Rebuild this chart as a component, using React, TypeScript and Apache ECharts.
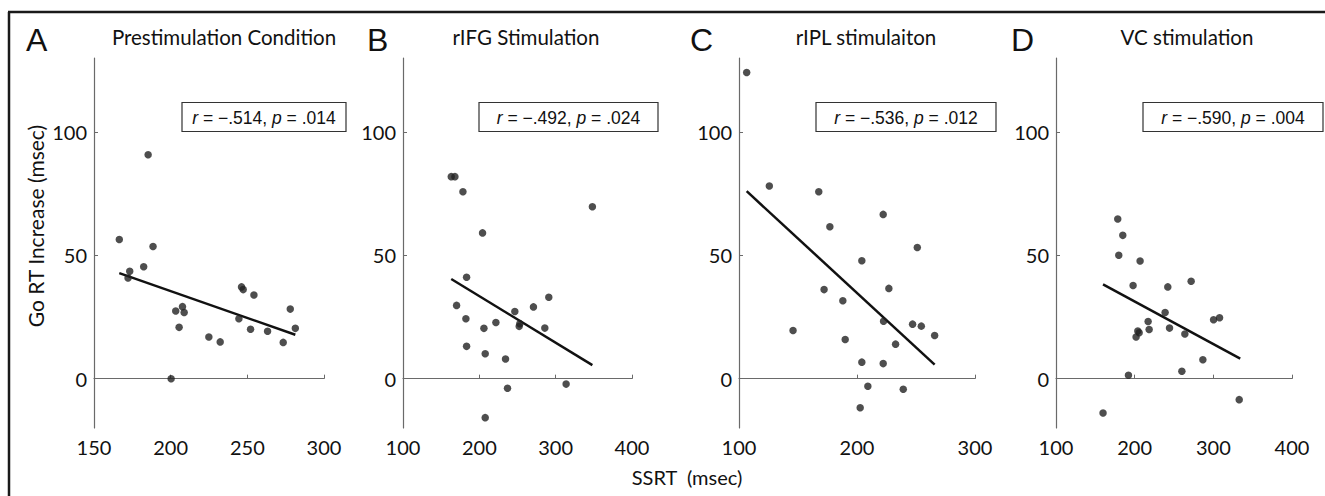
import React, { useEffect, useRef } from "react";
import * as echarts from "echarts";

// ---------- data ----------
const panelLetters = ["A", "B", "C", "D"];
const panelTitles = ["Prestimulation Condition", "rIFG Stimulation", "rIPL stimulaiton", "VC stimulation"];
const statR = ["−.514", "−.492", "−.536", "−.590"];
const statP = [".014", ".024", ".012", ".004"];
const yTicks = [0, 50, 100];
const yLabel = "Go RT Increase (msec)";
const xLabel = "SSRT  (msec)";

const xMinA = 150, xMaxA = 300, xStepA = 50;
const xMinB = 100, xMaxB = 400, xStepB = 100;
const xMinC = 100, xMaxC = 300, xStepC = 100;
const xMinD = 100, xMaxD = 400, xStepD = 100;
const yMin = -20, yMax = 130;

const pointsA: number[][] = [
  [166.5, 56.4], [172.2, 40.8], [173.3, 43.5], [182.4, 45.4], [185.3, 90.8], [188.5, 53.6],
  [200.3, 0], [203.3, 27.4], [205.5, 20.8], [207.7, 29.2], [208.8, 26.8], [224.9, 16.9],
  [232.3, 14.9], [244.5, 24.3], [246.2, 37.2], [247.3, 36.1], [252.1, 20.0], [254.3, 33.9],
  [263.2, 19.2], [273.4, 14.7], [278.0, 28.2], [281.3, 20.4],
];
const pointsB: number[][] = [
  [163.2, 81.9], [168.0, 81.9], [178.5, 75.8], [183.3, 41.1], [170.2, 29.7], [182.4, 24.3],
  [183.3, 13.1], [204.2, 59.1], [206.0, 20.4], [207.7, 10.1], [207.7, -15.8], [221.7, 22.8],
  [234.3, 8.0], [236.9, -3.9], [246.5, 27.2], [252.2, 21.2], [253.0, 22.3], [270.9, 29.1],
  [285.8, 20.5], [291.0, 33.0], [313.7, -2.2], [348.1, 69.7],
];
const pointsC: number[][] = [
  [106.5, 124.1], [125.7, 78.1], [145.8, 19.5], [167.6, 75.8], [172.1, 36.1], [177.0, 61.6],
  [188.0, 31.6], [190.0, 15.9], [202.7, -11.8], [204.1, 47.8], [204.1, 6.7], [209.2, -3.1],
  [222.2, 66.6], [222.5, 23.3], [222.2, 6.1], [227.0, 36.6], [232.7, 14.0], [239.2, -4.3],
  [247.1, 22.1], [251.1, 53.2], [254.5, 21.3], [265.8, 17.5],
];
const pointsD: number[][] = [
  [159.8, -13.9], [178.5, 64.7], [179.8, 50.0], [184.9, 58.1], [192.1, 1.4], [198.0, 37.8],
  [201.8, 16.9], [204.0, 19.3], [205.7, 18.6], [206.9, 47.7], [217.1, 23.2], [218.4, 19.9],
  [238.7, 26.8], [242.1, 37.2], [244.3, 20.5], [260.0, 3.0], [263.8, 18.1], [271.8, 39.5],
  [286.7, 7.7], [300.3, 23.9], [307.9, 24.7], [332.9, -8.5],
];
const fitA: number[][] = [[166.5, 42.8], [281.3, 17.8]];
const fitB: number[][] = [[163.2, 40.4], [348.1, 5.5]];
const fitC: number[][] = [[106.5, 76.0], [265.8, 5.7]];
const fitD: number[][] = [[159.8, 38.2], [334.2, 8.1]];

// ---------- layout ----------
const grids = [
  { left: 94, width: 230 },
  { left: 403, width: 229 },
  { left: 739, width: 236 },
  { left: 1056, width: 236 },
];
const gridTop = 58;
const gridHeight = 370;
const titleX = [224, 526, 866, 1187];
const letterX = [26, 367, 690, 1011];
const boxes = [
  { x: 182, w: 164 },
  { x: 479, w: 179 },
  { x: 816, w: 180 },
  { x: 1143, w: 180 },
];

const FONT = "Lato, 'Open Sans', sans-serif";
const SANS = "'Liberation Sans', Arial, sans-serif";
const AXIS_COLOR = "#6a6a6a";

export default function App() {
  const ref = useRef<HTMLDivElement>(null);
  useEffect(() => {
    document.body.style.margin = "0";
    if (!ref.current) return;
    const chart = echarts.init(ref.current, undefined, { renderer: "svg" });
    const xRanges = [
      [xMinA, xMaxA, xStepA],
      [xMinB, xMaxB, xStepB],
      [xMinC, xMaxC, xStepC],
      [xMinD, xMaxD, xStepD],
    ];
    const points = [pointsA, pointsB, pointsC, pointsD];
    const fits = [fitA, fitB, fitC, fitD];

    const axisCommon = {
      axisLine: { show: true, lineStyle: { color: AXIS_COLOR, width: 1.2 } },
      axisTick: { show: true, inside: true, length: 4, lineStyle: { color: AXIS_COLOR } },
      splitLine: { show: false },
      axisLabel: { color: "#111", fontFamily: FONT, fontSize: 20 },
    };

    const graphic: any[] = [
      { type: "line", shape: { x1: 8, y1: 12, x2: 1325, y2: 12 }, style: { stroke: "#1a1a1a", lineWidth: 2.5 } },
      { type: "line", shape: { x1: 9, y1: 12, x2: 9, y2: 496 }, style: { stroke: "#1a1a1a", lineWidth: 2.5 } },
      {
        type: "text", x: 35, y: 226, rotation: Math.PI / 2,
        style: { text: yLabel, font: `21px ${FONT}`, fill: "#111", textAlign: "center", textVerticalAlign: "middle" },
      },
      {
        type: "text", x: 687, y: 477,
        style: { text: xLabel, font: `20px ${FONT}`, fill: "#111", textAlign: "center", textVerticalAlign: "middle" },
      },
    ];
    for (let i = 0; i < 4; i++) {
      graphic.push({
        type: "text", x: letterX[i], y: 40,
        style: { text: panelLetters[i], font: `32px ${SANS}`, fill: "#111", textVerticalAlign: "middle" },
      });
      graphic.push({
        type: "text", x: titleX[i], y: 37,
        style: { text: panelTitles[i], font: `20.5px ${FONT}`, fill: "#111", textAlign: "center", textVerticalAlign: "middle" },
      });
      graphic.push({
        type: "rect", shape: { x: boxes[i].x, y: 102.5, width: boxes[i].w, height: 29 },
        style: { fill: "#fff", stroke: "#333", lineWidth: 1.2 },
      });
      graphic.push({
        type: "text", x: boxes[i].x + boxes[i].w / 2, y: 117.5,
        style: {
          text: `{i|r} = ${statR[i]}, {i|p} = ${statP[i]}`,
          font: `17.5px ${SANS}`,
          fill: "#111", textAlign: "center", textVerticalAlign: "middle",
          rich: { i: { fontStyle: "italic", fontSize: 17.5, fontFamily: SANS, fill: "#111" } },
        },
      });
    }

    const option: any = {
      animation: false,
      backgroundColor: "#fff",
      grid: grids.map((g) => ({ left: g.left, width: g.width, top: gridTop, height: gridHeight, containLabel: false })),
      xAxis: xRanges.map((r, i) => ({
        type: "value", gridIndex: i, min: r[0], max: r[1], interval: r[2],
        ...axisCommon,
        axisLabel: { ...axisCommon.axisLabel, margin: 9 },
      })),
      yAxis: [0, 1, 2, 3].map((i) => ({
        type: "value", gridIndex: i, min: yMin, max: yMax,
        ...axisCommon,
        axisTick: { ...axisCommon.axisTick, customValues: yTicks },
        axisLabel: { ...axisCommon.axisLabel, margin: 7, customValues: yTicks },
      })),
      series: [
        ...points.map((p, i) => ({
          type: "scatter", xAxisIndex: i, yAxisIndex: i, data: p,
          symbolSize: 7.5, itemStyle: { color: "#222" }, z: 3,
        })),
        ...fits.map((f, i) => ({
          type: "line", xAxisIndex: i, yAxisIndex: i, data: f,
          symbol: "none", lineStyle: { color: "#111", width: 2.5 }, z: 2,
        })),
      ],
      graphic,
    };
    chart.setOption(option);
    return () => chart.dispose();
  }, []);
  return <div ref={ref} style={{ width: 1325, height: 496 }} />;
}
